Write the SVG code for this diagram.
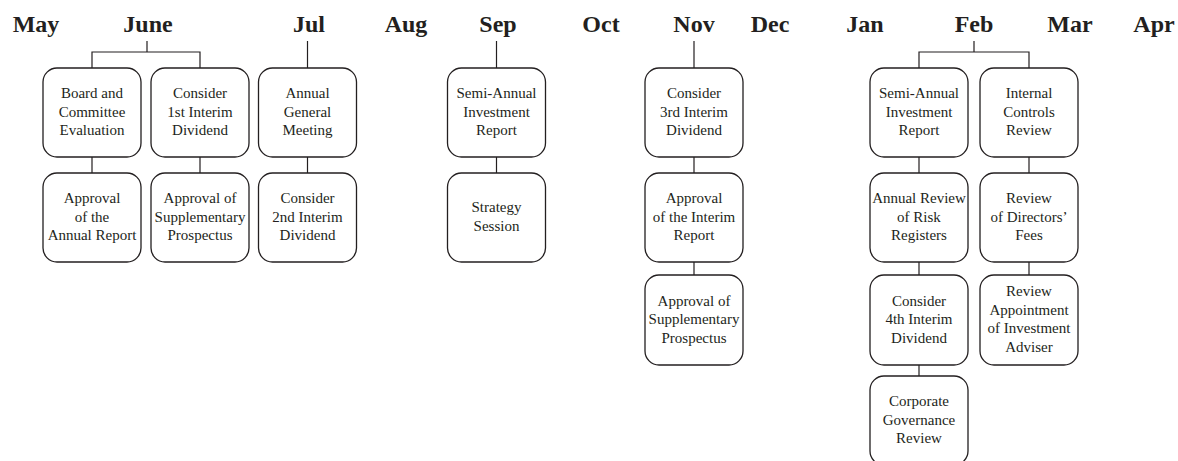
<svg xmlns="http://www.w3.org/2000/svg" width="1178" height="461" viewBox="0 0 1178 461">
<style>
.month{font-family:"Liberation Serif","Times New Roman",serif;font-weight:bold;font-size:24px;fill:#231f20;text-anchor:middle}
.box{fill:#fff;stroke:#231f20;stroke-width:1.3}
.lbl{font-family:"Liberation Serif","Times New Roman",serif;font-size:15px;fill:#231f20;text-anchor:middle}
.conn{fill:none;stroke:#231f20;stroke-width:1.2}
</style>
<rect width="1178" height="461" fill="#fff"/>
<g id="months">
<text class="month" x="36" y="32">May</text>
<text class="month" x="148" y="32">June</text>
<text class="month" x="309" y="32">Jul</text>
<text class="month" x="406" y="32">Aug</text>
<text class="month" x="498" y="32">Sep</text>
<text class="month" x="601" y="32">Oct</text>
<text class="month" x="694" y="32">Nov</text>
<text class="month" x="770" y="32">Dec</text>
<text class="month" x="865" y="32">Jan</text>
<text class="month" x="974" y="32">Feb</text>
<text class="month" x="1070" y="32">Mar</text>
<text class="month" x="1154" y="32">Apr</text>
</g>
<g id="connectors">
<path class="conn" d="M147,41V52M92,68V52H200V68"/>
<path class="conn" d="M307.5,41V68"/>
<path class="conn" d="M496.5,41V68"/>
<path class="conn" d="M694,41V68"/>
<path class="conn" d="M974,41V52M919,68V52H1029V68"/>
<path class="conn" d="M92,157V173M200,157V173M307.5,157V173M496.5,157V173M694,157V173M919,157V173M1029,157V173"/>
<path class="conn" d="M694,262V275M919,262V275M1029,262V275"/>
<path class="conn" d="M919,365V376"/>
</g>
<g id="n1"><rect class="box" x="43" y="68" width="98" height="89" rx="14"/><text class="lbl" x="92" y="98">Board and</text><text class="lbl" x="92" y="116.5">Committee</text><text class="lbl" x="92" y="135">Evaluation</text></g>
<g id="n2"><rect class="box" x="43" y="173" width="98" height="89" rx="14"/><text class="lbl" x="92" y="203">Approval</text><text class="lbl" x="92" y="221.5">of the</text><text class="lbl" x="92" y="240">Annual Report</text></g>
<g id="n3"><rect class="box" x="151" y="68" width="98" height="89" rx="14"/><text class="lbl" x="200" y="98">Consider</text><text class="lbl" x="200" y="116.5">1st Interim</text><text class="lbl" x="200" y="135">Dividend</text></g>
<g id="n4"><rect class="box" x="151" y="173" width="98" height="89" rx="14"/><text class="lbl" x="200" y="203">Approval of</text><text class="lbl" x="200" y="221.5">Supplementary</text><text class="lbl" x="200" y="240">Prospectus</text></g>
<g id="n5"><rect class="box" x="258.5" y="68" width="98" height="89" rx="14"/><text class="lbl" x="307.5" y="98">Annual</text><text class="lbl" x="307.5" y="116.5">General</text><text class="lbl" x="307.5" y="135">Meeting</text></g>
<g id="n6"><rect class="box" x="258.5" y="173" width="98" height="89" rx="14"/><text class="lbl" x="307.5" y="203">Consider</text><text class="lbl" x="307.5" y="221.5">2nd Interim</text><text class="lbl" x="307.5" y="240">Dividend</text></g>
<g id="n7"><rect class="box" x="447.5" y="68" width="98" height="89" rx="14"/><text class="lbl" x="496.5" y="98">Semi-Annual</text><text class="lbl" x="496.5" y="116.5">Investment</text><text class="lbl" x="496.5" y="135">Report</text></g>
<g id="n8"><rect class="box" x="447.5" y="173" width="98" height="89" rx="14"/><text class="lbl" x="496.5" y="212">Strategy</text><text class="lbl" x="496.5" y="230.5">Session</text></g>
<g id="n9"><rect class="box" x="645" y="68" width="98" height="89" rx="14"/><text class="lbl" x="694" y="98">Consider</text><text class="lbl" x="694" y="116.5">3rd Interim</text><text class="lbl" x="694" y="135">Dividend</text></g>
<g id="n10"><rect class="box" x="645" y="173" width="98" height="89" rx="14"/><text class="lbl" x="694" y="203">Approval</text><text class="lbl" x="694" y="221.5">of the Interim</text><text class="lbl" x="694" y="240">Report</text></g>
<g id="n11"><rect class="box" x="645" y="275" width="98" height="90" rx="14"/><text class="lbl" x="694" y="305.5">Approval of</text><text class="lbl" x="694" y="324">Supplementary</text><text class="lbl" x="694" y="342.5">Prospectus</text></g>
<g id="n12"><rect class="box" x="870" y="68" width="98" height="89" rx="14"/><text class="lbl" x="919" y="98">Semi-Annual</text><text class="lbl" x="919" y="116.5">Investment</text><text class="lbl" x="919" y="135">Report</text></g>
<g id="n13"><rect class="box" x="870" y="173" width="98" height="89" rx="14"/><text class="lbl" x="919" y="203">Annual Review</text><text class="lbl" x="919" y="221.5">of Risk</text><text class="lbl" x="919" y="240">Registers</text></g>
<g id="n14"><rect class="box" x="870" y="275" width="98" height="90" rx="14"/><text class="lbl" x="919" y="305.5">Consider</text><text class="lbl" x="919" y="324">4th Interim</text><text class="lbl" x="919" y="342.5">Dividend</text></g>
<g id="n15"><rect class="box" x="870" y="376" width="98" height="89" rx="14"/><text class="lbl" x="919" y="406">Corporate</text><text class="lbl" x="919" y="424.5">Governance</text><text class="lbl" x="919" y="443">Review</text></g>
<g id="n16"><rect class="box" x="980" y="68" width="98" height="89" rx="14"/><text class="lbl" x="1029" y="98">Internal</text><text class="lbl" x="1029" y="116.5">Controls</text><text class="lbl" x="1029" y="135">Review</text></g>
<g id="n17"><rect class="box" x="980" y="173" width="98" height="89" rx="14"/><text class="lbl" x="1029" y="203">Review</text><text class="lbl" x="1029" y="221.5">of Directors’</text><text class="lbl" x="1029" y="240">Fees</text></g>
<g id="n18"><rect class="box" x="980" y="275" width="98" height="90" rx="14"/><text class="lbl" x="1029" y="296">Review</text><text class="lbl" x="1029" y="314.5">Appointment</text><text class="lbl" x="1029" y="333">of Investment</text><text class="lbl" x="1029" y="351.5">Adviser</text></g>
</svg>
